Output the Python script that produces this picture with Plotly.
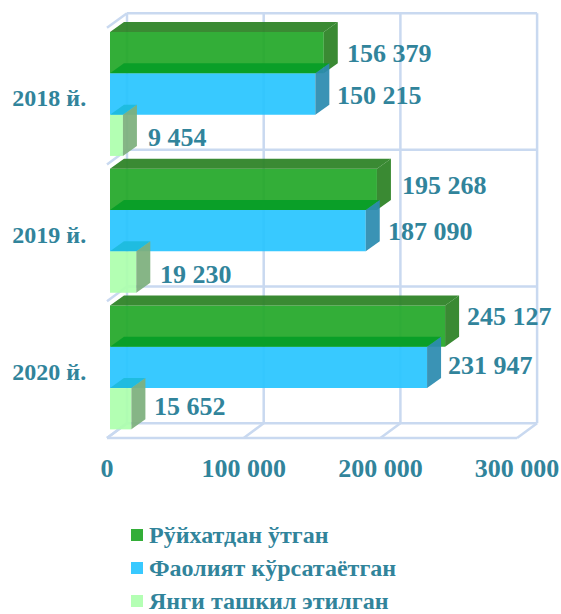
import plotly.graph_objects as go

years = ["2018 й.", "2019 й.", "2020 й."]
registered = [156379, 195268, 245127]
active = [150215, 187090, 231947]
newly_created = [9454, 19230, 15652]
series_names = ["Рўйхатдан ўтган", "Фаолият кўрсатаётган", "Янги ташкил этилган"]
axis_ticks = [0, 100000, 200000, 300000]
axis_labels = ["0", "100 000", "200 000", "300 000"]

TEXT = "#31849b"
FONT = "Liberation Serif"
GRID = "#c9d9f0"
FRONT = ["#24a829", "#29c5ff", "#aeffae"]
TOP = ["#2b8124", "#089e27", "#1dbbde"]
SIDE = ["#2b8124", "#2b8baf", "#7daf7d"]
BAR_OPACITY = 0.93

W, H = 561, 614
X0_PX = 107                 # pixel of value 0 on the front of the floor
L, R, T, B = 105, 541, 10, 442
UNIT = 136.7                # pixels per 100 000 and per category row
PX_X = 100000 / UNIT        # data units per pixel, horizontally
PX_Y = 1 / UNIT             # rows per pixel, vertically
ROW0 = 94                   # pixel centre of the first row
BAR_H = 41.3 * PX_Y
BASE = 3 * PX_X
DX, DY = 14 * PX_X, 10 * PX_Y            # depth of a bar
WX, WY = 20 * PX_X, 14.7 * PX_Y          # depth of the chart box

# per label nudges in pixels (x, y), series by row
NUDGE = [
    [(7, 1), (9, -4), (6, -10)],
    [(6, 1), (6, 1), (5, -2)],
    [(9, 2), (8, 2), (7, -2)],
]

all_series = [registered, active, newly_created]
rows = list(range(len(years)))
fig = go.Figure()

# bars
for i, vals in enumerate(all_series):
    fig.add_trace(go.Bar(
        name=series_names[i], y=rows, x=vals, base=[BASE] * len(vals),
        orientation="h", width=BAR_H, offset=-1.5 * BAR_H + i * BAR_H,
        marker=dict(color=FRONT[i], line=dict(width=0)), opacity=BAR_OPACITY,
        showlegend=False, hoverinfo="skip"))

# depth faces
for i, vals in enumerate(all_series):
    tx, ty, sx, sy = [], [], [], []
    for r, v in zip(rows, vals):
        top = r - 1.5 * BAR_H + i * BAR_H
        bot = top + BAR_H
        end = BASE + v
        tx += [BASE, end, end + DX, BASE + DX, BASE, None]
        ty += [top, top, top - DY, top - DY, top, None]
        sx += [end, end, end + DX, end + DX, end, None]
        sy += [top, bot, bot - DY, top - DY, top, None]
    for xs, ys, col in ((tx, ty, TOP[i]), (sx, sy, SIDE[i])):
        fig.add_trace(go.Scatter(x=xs, y=ys, mode="lines", line=dict(width=0),
                                 fill="toself", fillcolor=col, opacity=BAR_OPACITY,
                                 showlegend=False, hoverinfo="skip"))

# box: back wall, floor and left side
shapes = []
def seg(x0, y0, x1, y1):
    shapes.append(dict(type="line", xref="x", yref="y", x0=x0, y0=y0, x1=x1, y1=y1,
                       layer="below", line=dict(color=GRID, width=2.5)))
y_front_bottom = len(years) - 0.5 + 0.016
y_levels = [y_front_bottom - n for n in range(len(years) + 1)]
for t in axis_ticks:
    seg(t + WX, y_levels[0] - WY, t + WX, y_levels[-1] - WY)
    seg(t, y_levels[0], t + WX, y_levels[0] - WY)
for y in y_levels:
    seg(WX, y - WY, axis_ticks[-1] + WX, y - WY)
    seg(0, y, WX, y - WY)
seg(0, y_levels[0], axis_ticks[-1], y_levels[0])

# value labels
annotations = []
for i, vals in enumerate(all_series):
    for r, v in zip(rows, vals):
        nx, ny = NUDGE[i][r]
        annotations.append(dict(
            x=BASE + v + DX, y=r - 1.5 * BAR_H + (i + 0.5) * BAR_H,
            xref="x", yref="y", text=f"{v:,}".replace(",", " "), showarrow=False,
            xanchor="left", yanchor="middle", xshift=nx, yshift=-ny,
            font=dict(family=FONT, size=26, color=TEXT, weight="bold")))

# legend, laid out to sit as in the reference (paper units relative to the plot area)
plot_w, plot_h = R - L, B - T
def px_x(p):
    return (p - L) / plot_w
def px_y(p):
    return (B - p) / plot_h
LEG_Y = [535, 568, 601]
LEG_SWATCH = ["#33ae38", "#38c9ff", "#b4ffb4"]
for name, col, ly in zip(series_names, LEG_SWATCH, LEG_Y):
    annotations.append(dict(
        x=px_x(146.5), y=px_y(ly), xref="paper", yref="paper", text=name, showarrow=False,
        xanchor="left", yanchor="middle",
        font=dict(family=FONT, size=24, color=TEXT, weight="bold")))
    shapes.append(dict(type="rect", xref="paper", yref="paper", layer="above",
                       x0=px_x(131), x1=px_x(143), y0=px_y(ly + 6), y1=px_y(ly - 6),
                       fillcolor=col, line=dict(width=0)))

fig.update_layout(
    width=W, height=H, paper_bgcolor="white", plot_bgcolor="rgba(0,0,0,0)",
    margin=dict(l=L, r=W - R, t=T, b=H - B, pad=0, autoexpand=False),
    barmode="overlay", shapes=shapes, annotations=annotations, showlegend=False,
    font=dict(family=FONT, color=TEXT),
    xaxis=dict(range=[(L - X0_PX) * PX_X, (R - X0_PX) * PX_X], showgrid=False, zeroline=False,
               showline=False, tickmode="array", tickvals=axis_ticks, ticktext=axis_labels,
               ticks="outside", ticklen=3, tickcolor="rgba(0,0,0,0)",
               tickfont=dict(family=FONT, size=26, color=TEXT, weight="bold")),
    yaxis=dict(range=[(B - ROW0) * PX_Y, (T - ROW0) * PX_Y], showgrid=False, zeroline=False,
               showline=False, tickmode="array", tickvals=[r + 4 * PX_Y for r in rows], ticktext=years,
               ticks="outside", ticklen=13, tickcolor="rgba(0,0,0,0)",
               tickfont=dict(family=FONT, size=24, color=TEXT, weight="bold")),
)

fig.write_html("out.html", config=dict(displayModeBar=False),
               post_script="document.body.style.margin='0';document.body.style.overflow='hidden';")
